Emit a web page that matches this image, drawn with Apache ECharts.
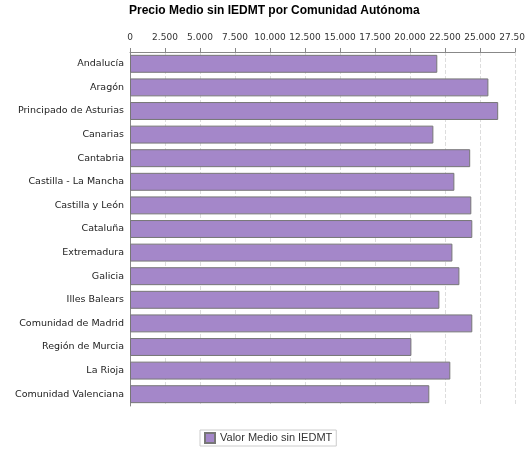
<!DOCTYPE html><html><head><meta charset="utf-8"><script src="https://cdn.jsdelivr.net/npm/echarts@6/dist/echarts.min.js"></script></head><body style="margin:0"><div id="c" style="width:525px;height:450px"></div><script>
const categories=["Andalucía","Aragón","Principado de Asturias","Canarias","Cantabria","Castilla - La Mancha","Castilla y León","Cataluña","Extremadura","Galicia","Illes Balears","Comunidad de Madrid","Región de Murcia","La Rioja","Comunidad Valenciana"];
const values=[21950,25600,26300,21670,24300,23170,24380,24450,23030,23530,22100,24450,20100,22880,21380];
const seriesName="Valor Medio sin IEDMT";
const ch=echarts.init(document.getElementById('c'));
ch.setOption({
 title:{text:"Precio Medio sin IEDMT por Comunidad Autónoma",left:124,top:0,textStyle:{fontFamily:"Liberation Sans",fontSize:12,fontWeight:"bold",color:"#000"}},
 grid:{left:130,right:10,top:52,bottom:44,outerBoundsMode:"none"},
 xAxis:{type:"value",position:"top",min:0,max:27500,interval:2500,
  axisLine:{show:true,lineStyle:{color:"#888"}},axisTick:{show:true,length:4,lineStyle:{color:"#888"}},
  axisLabel:{fontFamily:"DejaVu Sans",fontSize:9,color:"#333",margin:10,formatter:v=>v===0?"0":(v/1000).toFixed(3)},
  splitLine:{show:true,lineStyle:{type:"dashed",color:"#ddd"}}},
 yAxis:{type:"category",data:categories,inverse:true,
  axisLine:{show:true,lineStyle:{color:"#888"}},axisTick:{show:false},
  axisLabel:{fontFamily:"DejaVu Sans",fontSize:9.5,color:"#222",margin:6}},
 legend:{bottom:4,left:200,itemWidth:10,itemHeight:10,padding:[2,4],borderColor:"#ccc",borderWidth:1,
  textStyle:{fontFamily:"Liberation Sans",fontSize:11,color:"#333"},data:[{name:seriesName,icon:"rect"}]},
 series:[{name:seriesName,type:"bar",data:values,barCategoryGap:"24%",
  itemStyle:{color:"#a487c9",borderColor:"#777",borderWidth:1}}]
});
</script></body></html>
